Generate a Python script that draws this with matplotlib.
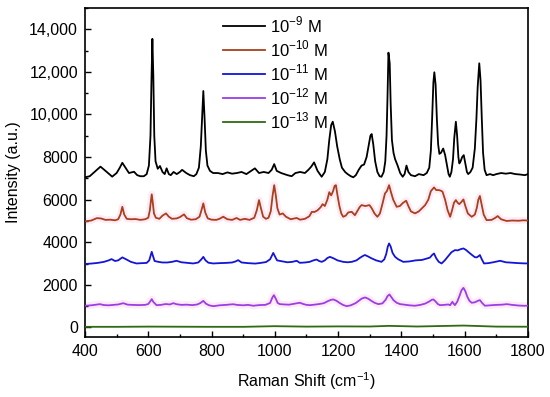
import numpy as np
import matplotlib
matplotlib.use("Agg")
import matplotlib.pyplot as plt
from matplotlib.ticker import MultipleLocator

plt.rcParams['font.family'] = ['Liberation Sans', 'DejaVu Sans']
plt.rcParams['mathtext.fontset'] = 'custom'
plt.rcParams['mathtext.rm'] = 'Liberation Sans'

# 10^-9 M
shift_9 = [400, 415, 430, 449, 465, 486, 500, 510, 518, 528, 539, 555, 565, 575, 586, 595, 602, 607, 610, 613,
           616, 619, 623, 630, 637, 645, 652, 658, 665, 671, 680, 690, 700, 707, 720, 732, 744, 752, 760, 766,
           770, 774, 778, 782, 787, 795, 805, 820, 835, 850, 865, 880, 895, 910, 925, 937, 950, 965, 980, 990,
           998, 1006, 1020, 1040, 1053, 1065, 1080, 1095, 1106, 1115, 1124, 1135, 1148, 1158, 1166, 1172, 1178,
           1183, 1190, 1197, 1205, 1212, 1222, 1230, 1240, 1248, 1256, 1265, 1274, 1282, 1290, 1297, 1302, 1306,
           1311, 1317, 1324, 1331, 1337, 1344, 1349, 1353, 1356, 1359, 1363, 1366, 1370, 1375, 1380, 1388, 1396,
           1404, 1410, 1416, 1422, 1430, 1443, 1455, 1470, 1480, 1488, 1493, 1497, 1501, 1504, 1508, 1512, 1516,
           1520, 1525, 1532, 1538, 1544, 1549, 1553, 1558, 1563, 1567, 1572, 1576, 1580, 1583, 1587, 1592, 1597,
           1602, 1607, 1611, 1618, 1625, 1632, 1637, 1641, 1646, 1650, 1654, 1658, 1663, 1669, 1680, 1690, 1700,
           1715, 1730, 1745, 1760, 1775, 1790, 1800]
int_9 = [7050, 7100, 7300, 7550, 7350, 7080, 7250, 7500, 7730, 7500, 7250, 7310, 7150, 7100, 7100, 7200, 7600,
         9000, 11500, 13550, 11800, 9000, 7800, 7450, 7580, 7300, 7200, 7470, 7200, 7150, 7300, 7200, 7300, 7400,
         7250, 7150, 7100, 7200, 7500, 8500, 9800, 11100, 9800, 8300, 7600, 7350, 7250, 7250, 7200, 7280, 7220,
         7250, 7300, 7200, 7350, 7470, 7250, 7300, 7250, 7400, 7670, 7350, 7250, 7150, 7100, 7250, 7300, 7250,
         7400, 7550, 7750, 7350, 7075, 7300, 7900, 8800, 9500, 9660, 9200, 8500, 7900, 7500, 7300, 7200, 7100,
         7050, 7150, 7400, 7600, 7650, 8000, 8600, 9000, 9080, 8600, 7800, 7300, 7100, 7075, 7300, 7800, 9000,
         10800, 12900, 12400, 10500, 8800, 8200, 7900, 7600, 7250, 7075, 7200, 7600, 7300, 7150, 7100, 7200,
         7150, 7250, 7500, 8300, 9800, 11500, 11980, 11400, 9800, 8600, 8150, 8200, 8400, 8100, 7600, 7200,
         7075, 7300, 7900, 8900, 9660, 9000, 8000, 7700, 7800, 8000, 8090, 7700, 7300, 7200, 7300, 7500, 8400,
         9800, 11300, 12400, 11600, 9800, 8200, 7400, 7150, 7200, 7150, 7200, 7250, 7220, 7250, 7200, 7180,
         7150, 7200]

# 10^-10 M
shift_10 = [400, 420, 437, 450, 465, 480, 495, 505, 512, 518, 524, 532, 545, 560, 575, 590, 600, 605, 608, 611,
            614, 618, 624, 635, 645, 656, 665, 675, 690, 700, 713, 722, 735, 750, 762, 768, 774, 780, 788, 800,
            815, 825, 837, 850, 865, 879, 890, 905, 920, 935, 943, 950, 956, 963, 972, 980, 987, 993, 998, 1003,
            1008, 1015, 1025, 1035, 1050, 1069, 1080, 1095, 1109, 1117, 1125, 1135, 1145, 1151, 1158, 1166, 1172,
            1178, 1184, 1189, 1193, 1198, 1204, 1210, 1216, 1224, 1232, 1243, 1253, 1262, 1268, 1274, 1286, 1299,
            1306, 1315, 1324, 1332, 1340, 1348, 1354, 1361, 1367, 1374, 1385, 1395, 1405, 1415, 1422, 1430, 1443,
            1455, 1465, 1475, 1485, 1493, 1503, 1510, 1518, 1525, 1530, 1538, 1546, 1554, 1560, 1566, 1572, 1578,
            1583, 1590, 1596, 1602, 1610, 1622, 1632, 1638, 1643, 1648, 1653, 1660, 1669, 1685, 1697, 1704, 1715,
            1732, 1750, 1770, 1785, 1800]
int_10 = [4980, 5020, 5130, 5120, 5050, 5060, 5030, 5080, 5300, 5665, 5300, 5100, 5080, 5090, 5050, 5080, 5150,
          5500, 5900, 6250, 5900, 5350, 5150, 5100, 5250, 5355, 5200, 5100, 5120, 5180, 5310, 5130, 5060, 5080,
          5200, 5500, 5825, 5400, 5120, 5060, 5050, 5100, 5200, 5080, 5050, 5140, 5050, 5100, 5050, 5150, 5500,
          5980, 5600, 5200, 5100, 5150, 5450, 6200, 6680, 6200, 5600, 5300, 5355, 5200, 5080, 5140, 5060, 5100,
          5220, 5430, 5420, 5500, 5650, 5790, 5700, 6000, 6350, 6200, 6400, 6650, 6680, 6200, 5700, 5350, 5195,
          5250, 5400, 5430, 5270, 5500, 5650, 5745, 5700, 5745, 5600, 5350, 5195, 5350, 5800, 6290, 6400, 6680,
          6350, 6000, 5665, 5700, 5850, 5950, 5700, 5450, 5355, 5450, 5600, 5745, 6000, 6400, 6575, 6450, 6450,
          6420, 6370, 6000, 5500, 5195, 5500, 5850, 5980, 5850, 5790, 5900, 6010, 5700, 5350, 5195, 5300, 5600,
          6000, 6170, 5800, 5300, 5040, 5050, 5150, 5230, 5080, 5000, 5020, 5010, 5030, 5020]

# 10^-11 M
shift_11 = [400, 420, 440, 460, 475, 484, 495, 505, 518, 530, 545, 563, 580, 595, 603, 608, 611, 615, 620, 632,
            645, 660, 675, 689, 705, 725, 742, 758, 768, 774, 781, 790, 805, 825, 845, 865, 876, 884, 895, 915,
            938, 955, 972, 985, 991, 995, 1000, 1007, 1021, 1040, 1055, 1069, 1079, 1095, 1110, 1122, 1132, 1140,
            1148, 1158, 1166, 1174, 1185, 1198, 1216, 1230, 1243, 1258, 1270, 1280, 1285, 1295, 1305, 1320, 1337,
            1346, 1352, 1357, 1361, 1366, 1372, 1380, 1390, 1406, 1425, 1445, 1465, 1480, 1490, 1497, 1503, 1510,
            1518, 1527, 1537, 1548, 1558, 1569, 1578, 1588, 1596, 1604, 1611, 1617, 1625, 1632, 1638, 1644, 1648,
            1654, 1661, 1675, 1690, 1712, 1730, 1750, 1770, 1785, 1800]
int_11 = [2980, 3000, 3030, 3080, 3150, 3210, 3120, 3150, 3290, 3200, 3080, 3005, 3020, 3030, 3150, 3400, 3550,
          3350, 3120, 3080, 3050, 3050, 3080, 3130, 3060, 3030, 3005, 3050, 3200, 3315, 3150, 3040, 3005, 3020,
          3030, 3050, 3100, 3160, 3050, 3020, 3000, 3030, 3070, 3200, 3380, 3500, 3350, 3150, 3110, 3060, 3080,
          3130, 3035, 3050, 3080, 3150, 3190, 3120, 3080, 3150, 3260, 3315, 3250, 3150, 3080, 3060, 3080, 3150,
          3280, 3370, 3400, 3330, 3250, 3150, 3080, 3200, 3450, 3800, 3945, 3800, 3500, 3315, 3200, 3080, 3100,
          3150, 3170, 3235, 3280, 3400, 3475, 3250, 3080, 3005, 3150, 3350, 3530, 3630, 3620, 3680, 3710, 3640,
          3550, 3475, 3380, 3300, 3290, 3350, 3400, 3200, 3005, 3020, 3060, 3130, 3060, 3040, 3020, 3010, 3005]

# 10^-12 M
shift_12 = [400, 420, 435, 447, 460, 475, 490, 505, 521, 535, 550, 570, 590, 600, 606, 611, 616, 626, 640, 655,
            668, 679, 690, 705, 720, 740, 755, 765, 774, 782, 792, 806, 825, 845, 860, 869, 880, 900, 915, 932,
            950, 970, 985, 992, 997, 1003, 1009, 1016, 1030, 1045, 1060, 1079, 1090, 1100, 1111, 1125, 1140, 1155,
            1168, 1178, 1185, 1195, 1205, 1215, 1227, 1240, 1255, 1265, 1275, 1285, 1295, 1305, 1315, 1327, 1340,
            1350, 1356, 1362, 1368, 1375, 1385, 1396, 1410, 1425, 1443, 1460, 1475, 1488, 1496, 1501, 1508, 1515,
            1522, 1535, 1548, 1554, 1561, 1566, 1569, 1576, 1584, 1590, 1596, 1602, 1608, 1615, 1622, 1632, 1640,
            1648, 1655, 1664, 1680, 1700, 1718, 1733, 1750, 1770, 1785, 1800]
int_12 = [1020, 1040, 1070, 1095, 1050, 1040, 1060, 1080, 1140, 1070, 1060, 1050, 1060, 1100, 1220, 1330, 1200,
          1047, 1060, 1100, 1080, 1140, 1090, 1060, 1070, 1050, 1080, 1150, 1250, 1120, 1040, 1000, 1040, 1060,
          1080, 1090, 1060, 1040, 1060, 1020, 1050, 1060, 1150, 1400, 1517, 1350, 1150, 1095, 1080, 1070, 1110,
          1160, 1100, 1060, 1047, 1070, 1100, 1140, 1240, 1300, 1315, 1250, 1150, 1060, 1000, 1040, 1140, 1250,
          1360, 1410, 1350, 1250, 1160, 1095, 1130, 1300, 1470, 1550, 1430, 1280, 1160, 1095, 1070, 1040, 1020,
          1060, 1120, 1220, 1300, 1315, 1220, 1100, 1047, 1060, 1080, 1047, 1205, 1100, 1047, 1200, 1500, 1750,
          1860, 1700, 1450, 1250, 1160, 1180, 1240, 1285, 1150, 1020, 1040, 1060, 1070, 1095, 1060, 1030, 1020,
          1020]

# 10^-13 M
shift_13 = [400, 500, 600, 700, 800, 900, 998, 1100, 1200, 1300, 1361, 1450, 1596, 1700, 1800]
int_13 = [30, 30, 40, 35, 30, 30, 60, 40, 50, 45, 75, 45, 90, 40, 35]

labels = ['10$^{-9}$ M', '10$^{-10}$ M', '10$^{-11}$ M', '10$^{-12}$ M', '10$^{-13}$ M']
ytick_vals = [0, 2000, 4000, 6000, 8000, 10000, 12000, 14000]
ytick_labels = ['0', '2000', '4000', '6000', '8000', '10,000', '12,000', '14,000']
xtick_vals = [400, 600, 800, 1000, 1200, 1400, 1600, 1800]

fig = plt.figure(figsize=(5.5, 3.97), dpi=100)
ax = fig.add_axes([0.1545, 0.151, 0.8055, 0.829])

# faint pink halo seen around the red and purple traces
ax.plot(shift_10, int_10, color="#ffb0dc", lw=5, alpha=0.25, zorder=1)
ax.plot(shift_12, int_12, color="#ffb0dc", lw=5, alpha=0.25, zorder=1)

ax.plot(shift_9, int_9, color="black", lw=1.3, label=labels[0], zorder=3)
ax.plot(shift_10, int_10, color="#a8401c", lw=1.3, label=labels[1], zorder=3)
ax.plot(shift_11, int_11, color="#1414d8", lw=1.3, label=labels[2], zorder=3)
ax.plot(shift_12, int_12, color="#9a3ee6", lw=1.3, label=labels[3], zorder=3)
ax.plot(shift_13, int_13, color="#2f6a14", lw=1.3, label=labels[4], zorder=3)

ax.set_xlim(400, 1800)
ax.set_ylim(-450, 15000)
ax.set_xticks(xtick_vals)
ax.xaxis.set_minor_locator(MultipleLocator(100))
ax.set_yticks(ytick_vals)
ax.set_yticklabels(ytick_labels)
ax.yaxis.set_minor_locator(MultipleLocator(1000))
ax.tick_params(which="major", direction="in", length=4.5, width=1, labelsize=11.5, pad=5)
ax.tick_params(which="minor", direction="in", length=2.5, width=1)
for s in ax.spines.values():
    s.set_linewidth(1.2)

ax.set_xlabel("Raman Shift (cm$^{-1}$)", fontsize=11.5, labelpad=8)
ax.set_ylabel("Intensity (a.u.)", fontsize=11.5, labelpad=6)

ax.legend(loc="upper left", bbox_to_anchor=(0.285, 1.015), frameon=False, fontsize=12,
          handlelength=2.5, handletextpad=0.3, labelspacing=0.2, borderaxespad=0.3)

plt.savefig("out.png", dpi=100)
